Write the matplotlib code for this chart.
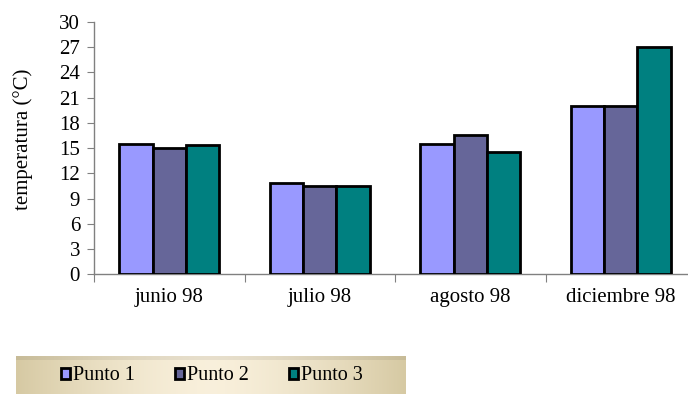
import numpy as np
import matplotlib.pyplot as plt

plt.rcParams['font.family'] = ['Liberation Serif', 'DejaVu Serif']

# datos de temperatura por mes y punto de muestreo
meses = ['junio 98', 'julio 98', 'agosto 98', 'diciembre 98']
punto1 = [15.5, 10.8, 15.5, 20.0]
punto2 = [15.0, 10.5, 16.6, 20.0]
punto3 = [15.4, 10.5, 14.6, 27.0]
series = ['Punto 1', 'Punto 2', 'Punto 3']
colores = ['#9999FF', '#666699', '#008080']
yticks = np.arange(0, 31, 3)

fig = plt.figure(figsize=(6.88, 3.94), dpi=100, facecolor='white')
ax = fig.add_axes([94 / 688, 1 - 274.3 / 394, 602 / 688, 252.3 / 394])

x = np.arange(len(meses))
ancho = 0.222
handles = []
for i, (vals, col, nom) in enumerate(zip([punto1, punto2, punto3], colores, series)):
    b = ax.bar(x + (i - 1) * ancho, vals, ancho, color=col, edgecolor='black',
               linewidth=2, label=nom, zorder=3)
    handles.append(b)

ax.set_xlim(-0.5, 3.5)
ax.set_ylim(0, 30)
ax.set_yticks(yticks)
ax.set_yticklabels([str(v) for v in yticks], fontsize=15)

# marcas entre categorias, etiquetas en el centro
ax.set_xticks(np.arange(-0.5, 3.6, 1))
ax.set_xticklabels([])
ax.set_xticks(x, minor=True)
ax.set_xticklabels(meses, minor=True, fontsize=15)
ax.tick_params(axis='x', which='major', direction='out', length=6, color='#808080')
ax.tick_params(axis='x', which='minor', length=0, pad=10)
ax.tick_params(axis='y', direction='out', length=5, color='#808080', pad=5)

for s in ['top', 'right']:
    ax.spines[s].set_visible(False)
for s in ['left', 'bottom']:
    ax.spines[s].set_color('#808080')
    ax.spines[s].set_linewidth(1)
ax.spines['left'].set_zorder(4)

fig.text(23 / 688, 1 - 139 / 394, 'temperatura (°C)', rotation=90,
         ha='center', va='center', fontsize=15)

# fondo de la leyenda con degradado beige
lx0, lx1, ly0, ly1 = 16, 405, 356, 394
fondo = fig.add_axes([lx0 / 688, 1 - ly1 / 394, (lx1 - lx0) / 688, (ly1 - ly0) / 394])
t = np.linspace(-1, 1, 256)
perfil = np.abs(t) ** 1.5
claro = np.array([0.975, 0.94, 0.86])
oscuro = np.array([0.84, 0.79, 0.64])
grad = claro[None, :] * (1 - perfil[:, None]) + oscuro[None, :] * perfil[:, None]
img = np.repeat(grad[None, :, :], 38, axis=0)
img[:4] = img[:4] * 0.93
fondo.imshow(img, aspect='auto', extent=[0, 1, 0, 1], origin='upper')
fondo.set_axis_off()

fig.legend(handles=handles, labels=series, loc='center',
           bbox_to_anchor=((lx0 + lx1) / 2 / 688 + 0.002, 1 - 376 / 394),
           ncol=3, frameon=False, fontsize=14.5, handlelength=0.45,
           handleheight=0.45, handletextpad=0.15, columnspacing=2.0)

fig.savefig('out.png', dpi=100, facecolor='white')
